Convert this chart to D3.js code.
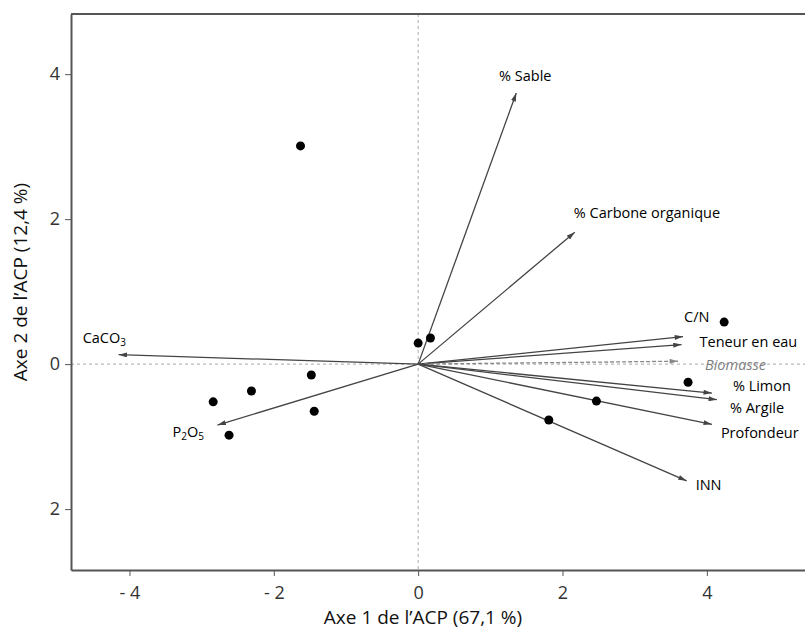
<!DOCTYPE html>
<html lang="fr">
    <head>
        <meta charset="utf-8">
        <title>ACP</title>
        <script src="https://d3js.org/d3.v7.min.js"></script>
        <style type="text/css">
            html, body { margin: 0; padding: 0; background: #fff; overflow: hidden; }
            svg { display: block; }
            text { font-family: "Open Sans", "Noto Sans", sans-serif; }
        </style>
    </head>
    <body>
        <script>
            // data: individuals (scores on axes 1 and 2)
            var pointX = [-1.63, 0.0, 0.17, 4.24, 3.74, 2.47, 1.81, -1.48, -1.44, -2.31, -2.84, -2.62];
            var pointY = [3.01, 0.29, 0.36, 0.58, -0.25, -0.51, -0.77, -0.15, -0.65, -0.37, -0.52, -0.98];

            // data: variables (arrow tips)
            var varNames = ["% Sable", "% Carbone organique", "CaCO3", "P2O5", "C/N", "Teneur en eau",
                            "Biomasse", "% Limon", "% Argile", "Profondeur", "INN"];
            var varX = [1.36, 2.17, -4.15, -2.78, 3.67, 3.65, 3.60, 4.07, 4.14, 4.07, 3.72];
            var varY = [3.74, 1.82, 0.13, -0.84, 0.38, 0.27, 0.04, -0.40, -0.49, -0.83, -1.61];
            var supplementary = ["Biomasse"];

            var xTicks = [-4, -2, 0, 2, 4];
            var yTicks = [-2, 0, 2, 4];
            var yTickLabels = ["2", "0", "2", "4"];

            var xTitle = "Axe 1 de l\u2019ACP (67,1 %)";
            var yTitle = "Axe 2 de l\u2019ACP (12,4 %)";

            // layout
            var outerWidth = 805;
            var outerHeight = 630;
            var margin = { left: 71, top: 14, right: 0, bottom: 60 };
            var innerWidth = outerWidth - margin.left - margin.right;
            var innerHeight = outerHeight - margin.top - margin.bottom;

            // label offsets (px, to the text baseline) from arrow tips
            var labelOffset = {
                "% Sable":             { dx: 9,   dy: -12, anchor: "middle" },
                "% Carbone organique": { dx: -1,  dy: -14, anchor: "start" },
                "CaCO3":               { dx: -36, dy: -12, anchor: "start" },
                "P2O5":                { dx: -45, dy: 12,  anchor: "start" },
                "C/N":                 { dx: 1,   dy: -15, anchor: "start" },
                "Teneur en eau":       { dx: 18,  dy: 2,   anchor: "start" },
                "Biomasse":            { dx: 27,  dy: 9,   anchor: "start" },
                "% Limon":             { dx: 21,  dy: -2,  anchor: "start" },
                "% Argile":            { dx: 13,  dy: 13,  anchor: "start" },
                "Profondeur":          { dx: 9,   dy: 14,  anchor: "start" },
                "INN":                 { dx: 9,   dy: 9,   anchor: "start" }
            };

            var svg = d3.select("body")
                .append("svg")
                .attr("width", outerWidth)
                .attr("height", outerHeight);

            var defs = svg.append("defs");
            [["head", "#444"], ["headGray", "#888"]].forEach(function(m) {
                defs.append("marker")
                    .attr("id", m[0])
                    .attr("viewBox", "0 0 10 6")
                    .attr("refX", 10)
                    .attr("refY", 3)
                    .attr("markerUnits", "userSpaceOnUse")
                    .attr("markerWidth", 9)
                    .attr("markerHeight", 5)
                    .attr("orient", "auto")
                    .append("path")
                    .attr("d", "M0,0 L10,3 L0,6 Z")
                    .attr("fill", m[1]);
            });

            var g = svg.append("g")
                .attr("transform", "translate(" + margin.left + "," + margin.top + ")");

            var xScale = d3.scaleLinear().domain([-4.81, 5.36]).range([0, innerWidth]);
            var yScale = d3.scaleLinear().domain([-2.84, 4.83]).range([innerHeight, 0]);

            // reference lines
            g.append("line")
                .attr("x1", 0).attr("x2", innerWidth)
                .attr("y1", yScale(0)).attr("y2", yScale(0))
                .attr("stroke", "#aaa").attr("stroke-width", 1)
                .attr("stroke-dasharray", "3,3");
            g.append("line")
                .attr("x1", xScale(0)).attr("x2", xScale(0))
                .attr("y1", 0).attr("y2", innerHeight)
                .attr("stroke", "#aaa").attr("stroke-width", 1)
                .attr("stroke-dasharray", "3,3");

            // axes
            var xAxis = g.append("g")
                .attr("transform", "translate(0," + innerHeight + ")")
                .call(d3.axisBottom(xScale).tickValues(xTicks).tickSizeInner(6).tickSizeOuter(0).tickPadding(10)
                    .tickFormat(function(d) { return d < 0 ? "- " + Math.abs(d) : d; }));
            var yAxis = g.append("g")
                .call(d3.axisLeft(yScale).tickValues(yTicks).tickSizeInner(6).tickSizeOuter(0).tickPadding(5)
                    .tickFormat(function(d, i) { return yTickLabels[i]; }));

            [xAxis, yAxis].forEach(function(ax) {
                ax.select(".domain").attr("stroke", "#555").attr("stroke-width", 2);
                ax.selectAll(".tick line").attr("stroke", "#555");
                ax.selectAll(".tick text")
                    .attr("fill", "#333")
                    .style("font-size", "18px")
                    .style("font-family", "\"Open Sans\", sans-serif");
            });

            g.append("line")
                .attr("x1", 0).attr("x2", innerWidth)
                .attr("y1", 0).attr("y2", 0)
                .attr("stroke", "#555").attr("stroke-width", 2);

            // arrows
            var vars = varNames.map(function(n, i) {
                return { name: n, x: varX[i], y: varY[i], sup: supplementary.indexOf(n) >= 0 };
            });

            g.selectAll(".arrow")
                .data(vars)
                .enter()
                .append("line")
                .attr("class", "arrow")
                .attr("x1", xScale(0))
                .attr("y1", yScale(0))
                .attr("x2", function(d) { return xScale(d.x); })
                .attr("y2", function(d) { return yScale(d.y); })
                .attr("stroke", function(d) { return d.sup ? "#888" : "#444"; })
                .attr("stroke-width", 1.3)
                .attr("stroke-dasharray", function(d) { return d.sup ? "4,2" : null; })
                .attr("marker-end", function(d) { return d.sup ? "url(#headGray)" : "url(#head)"; });

            // points
            var points = pointX.map(function(x, i) { return { x: x, y: pointY[i] }; });
            g.selectAll(".pt")
                .data(points)
                .enter()
                .append("circle")
                .attr("class", "pt")
                .attr("cx", function(d) { return xScale(d.x); })
                .attr("cy", function(d) { return yScale(d.y); })
                .attr("r", 4.5)
                .attr("fill", "#000");

            // labels
            var labels = g.selectAll(".vlabel")
                .data(vars)
                .enter()
                .append("text")
                .attr("class", "vlabel")
                .attr("x", function(d) { return xScale(d.x) + labelOffset[d.name].dx; })
                .attr("y", function(d) { return yScale(d.y) + labelOffset[d.name].dy; })
                .attr("text-anchor", function(d) { return labelOffset[d.name].anchor; })
                .style("font-size", "14.5px")
                .style("font-style", function(d) { return d.sup ? "italic" : "normal"; })
                .attr("fill", function(d) { return d.sup ? "#808080" : "#000"; });

            // chemical formulas: digits as subscripts
            labels.each(function(d) {
                var t = d3.select(this);
                if (/^[A-Za-z0-9]+$/.test(d.name) && /\d/.test(d.name)) {
                    d.name.match(/\d+|\D+/g).forEach(function(part) {
                        var ts = t.append("tspan").text(part);
                        if (/\d/.test(part)) {
                            ts.attr("baseline-shift", "-30%").style("font-size", "10px");
                        }
                    });
                } else {
                    t.text(d.name);
                }
            });

            // axis titles
            svg.append("text")
                .attr("x", 423)
                .attr("y", 624)
                .attr("text-anchor", "middle")
                .style("font-size", "19px")
                .attr("fill", "#111")
                .text(xTitle);

            svg.append("text")
                .attr("transform", "translate(27," + 282 + ") rotate(-90)")
                .attr("text-anchor", "middle")
                .style("font-size", "19px")
                .attr("fill", "#111")
                .text(yTitle);
        </script>
    </body>
</html>
